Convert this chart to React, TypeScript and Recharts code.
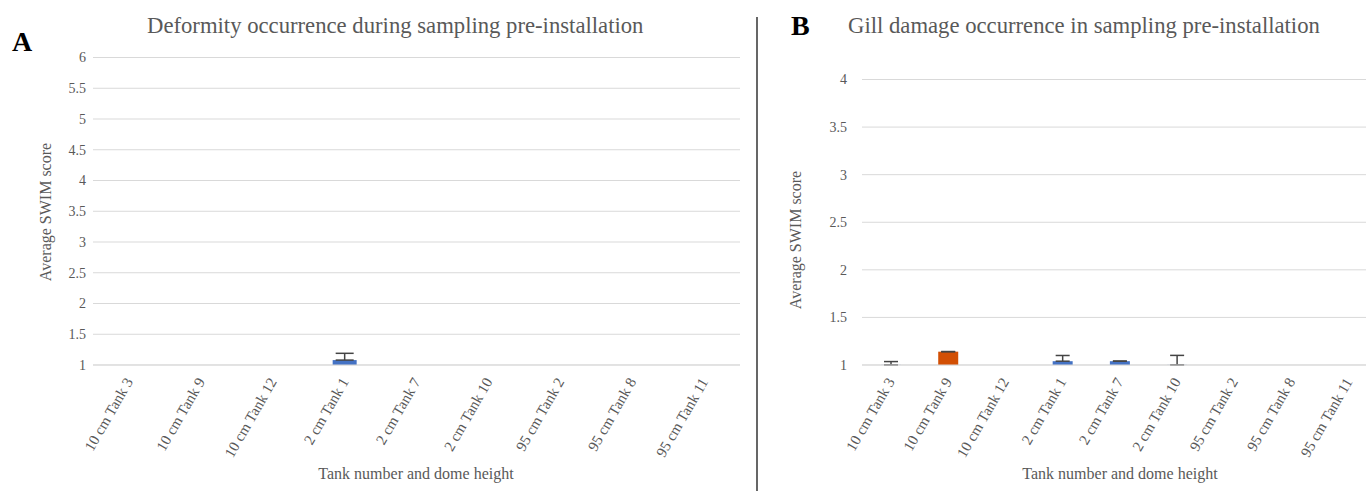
import React from "react";
import { BarChart, Bar, XAxis, YAxis, CartesianGrid, ErrorBar, Cell } from "recharts";

const tanks = [
  "10 cm Tank 3",
  "10 cm Tank 9",
  "10 cm Tank 12",
  "2 cm Tank 1",
  "2 cm Tank 7",
  "2 cm Tank 10",
  "95 cm Tank 2",
  "95 cm Tank 8",
  "95 cm Tank 11",
];

// panel A - deformity
const deformityMean = [1, 1, 1, 1.08, 1, 1, 1, 1, 1];
const deformityErr = [null, null, null, 0.11, null, null, null, null, null];
const deformityTicks = [1, 1.5, 2, 2.5, 3, 3.5, 4, 4.5, 5, 5.5, 6];

// panel B - gill damage
const gillMean = [1.001, 1.14, 1, 1.04, 1.04, 1.001, 1, 1, 1];
const gillErr = [0.035, 0.001, null, 0.06, 0.001, 0.1, null, null, null];
const gillTicks = [1, 1.5, 2, 2.5, 3, 3.5, 4];

const BLUE = "#4472c4";
const ORANGE = "#d24f04";
const GREY = "#595959";
const FONT = '"Liberation Serif", "Times New Roman", serif';

const deformityData = tanks.map((t, i) => ({
  tank: t,
  mean: deformityMean[i],
  err: deformityErr[i] == null ? null : [0, deformityErr[i]],
}));

const gillData = tanks.map((t, i) => ({
  tank: t,
  mean: gillMean[i],
  err: gillErr[i] == null ? null : [0, gillErr[i]],
}));

const AngledTick = (props: any) => {
  const { x, y, payload } = props;
  return (
    <g transform={`translate(${x},${y + 6})`}>
      <text
        x={0}
        y={0}
        dy="0.35em"
        textAnchor="end"
        transform="rotate(-60)"
        fill={GREY}
        fontSize={15}
        fontFamily={FONT}
      >
        {payload.value}
      </text>
    </g>
  );
};

const App: React.FC = () => {
  return (
    <div
      style={{
        position: "absolute",
        left: 0,
        top: 0,
        width: 1366,
        height: 491,
        overflow: "hidden",
        background: "#fff",
        fontFamily: FONT,
      }}
    >
      <div style={{ position: "absolute", left: 0, top: 0 }}>
        <BarChart
          width={757}
          height={491}
          data={deformityData}
          margin={{ top: 57.5, right: 17, bottom: 16, left: 53 }}
        >
          <CartesianGrid vertical={false} stroke="#d9d9d9" />
          <XAxis
            dataKey="tank"
            interval={0}
            height={110}
            tickLine={false}
            axisLine={{ stroke: "#d9d9d9" }}
            tick={<AngledTick />}
          />
          <YAxis
            width={40}
            domain={[1, 6]}
            ticks={deformityTicks}
            allowDataOverflow
            axisLine={false}
            tickLine={false}
            tickMargin={1}
            tick={{ fill: GREY, fontSize: 14, fontFamily: FONT }}
          />
          <Bar dataKey="mean" fill={BLUE} barSize={24} isAnimationActive={false}>
            <ErrorBar dataKey="err" width={9} stroke="#444" strokeWidth={1.5} direction="y" />
          </Bar>
        </BarChart>
      </div>

      <div style={{ position: "absolute", left: 757, top: 0 }}>
        <BarChart
          width={640}
          height={491}
          data={gillData}
          margin={{ top: 79.5, right: 20, bottom: 16, left: 60 }}
        >
          <CartesianGrid vertical={false} stroke="#d9d9d9" />
          <XAxis
            dataKey="tank"
            interval={0}
            height={110}
            tickLine={false}
            axisLine={{ stroke: "#d9d9d9" }}
            tick={<AngledTick />}
          />
          <YAxis
            width={45}
            domain={[1, 4]}
            ticks={gillTicks}
            allowDataOverflow
            axisLine={false}
            tickLine={false}
            tickMargin={9}
            tick={{ fill: GREY, fontSize: 14, fontFamily: FONT }}
          />
          <Bar dataKey="mean" barSize={20} isAnimationActive={false}>
            {gillData.map((d) => (
              <Cell key={d.tank} fill={d.tank === "10 cm Tank 9" ? ORANGE : BLUE} />
            ))}
            <ErrorBar dataKey="err" width={7} stroke="#444" strokeWidth={1.5} direction="y" />
          </Bar>
        </BarChart>
      </div>

      <svg
        width={1366}
        height={491}
        style={{ position: "absolute", left: 0, top: 0, pointerEvents: "none" }}
        fontFamily={FONT}
      >
        <text x={12} y={51} fontSize={28} fontWeight="bold" fill="#000">A</text>
        <text x={147} y={33} fontSize={22.7} fill={GREY}>
          Deformity occurrence during sampling pre-installation
        </text>
        <text x={791} y={35} fontSize={28} fontWeight="bold" fill="#000">B</text>
        <text x={848} y={33} fontSize={22.7} fill={GREY}>
          Gill damage occurrence in sampling pre-installation
        </text>
        <line x1={757} y1={17} x2={757} y2={491} stroke="#000" strokeWidth={1.2} />
        <text x={51} y={212} fontSize={16} fill={GREY} textAnchor="middle" transform="rotate(-90 51 212)">
          Average SWIM score
        </text>
        <text x={801} y={240} fontSize={16} fill={GREY} textAnchor="middle" transform="rotate(-90 801 240)">
          Average SWIM score
        </text>
        <text x={416} y={479} fontSize={16} fill={GREY} textAnchor="middle">
          Tank number and dome height
        </text>
        <text x={1120} y={479} fontSize={16} fill={GREY} textAnchor="middle">
          Tank number and dome height
        </text>
      </svg>
    </div>
  );
};

export default App;
